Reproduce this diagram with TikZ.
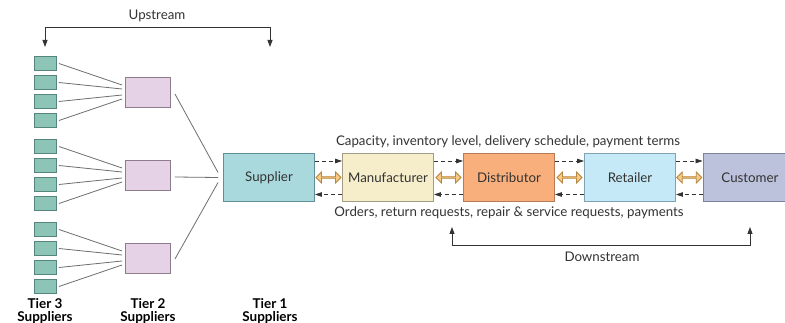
\documentclass[tikz,border=0pt]{standalone}
\usepackage{fontspec}
\setmainfont{Lato}
\usetikzlibrary{arrows.meta,shapes.arrows,calc}
\definecolor{txt}{HTML}{333333}
\definecolor{tthreef}{HTML}{8CC5B8}
\definecolor{tthreed}{HTML}{55857D}
\definecolor{ttwof}{HTML}{E6D2E6}
\definecolor{ttwod}{HTML}{8C7C8C}
\definecolor{supf}{HTML}{A9D8DD}
\definecolor{supd}{HTML}{5F8F97}
\definecolor{manf}{HTML}{F6EECB}
\definecolor{mand}{HTML}{A29C82}
\definecolor{disf}{HTML}{F9AF7C}
\definecolor{disd}{HTML}{B57C55}
\definecolor{retf}{HTML}{C5E9F6}
\definecolor{retd}{HTML}{7FA3B3}
\definecolor{cusf}{HTML}{BDC2DC}
\definecolor{cusd}{HTML}{7D819B}
\definecolor{arrf}{HTML}{F7CA85}
\definecolor{arrd}{HTML}{B8873F}
\definecolor{lnc}{HTML}{6E6E6E}
\begin{document}
\begin{tikzpicture}[x=1pt,y=-1pt,
  every node/.style={text=txt,font=\fontsize{13.3}{15}\selectfont},
  tthree/.style={draw=tthreed,fill=tthreef,line width=0.9pt,minimum width=22pt,minimum height=14pt,inner sep=0pt},
  ttwo/.style={draw=ttwod,fill=ttwof,line width=0.9pt,minimum width=45pt,minimum height=30pt,inner sep=0pt},
  chain/.style={line width=0.9pt,minimum width=91pt,minimum height=48pt,inner sep=0pt},
  link/.style={draw=lnc,line width=0.8pt},
  flow/.style={draw=txt,line width=0.8pt,dash pattern=on 4pt off 3pt,-{Triangle[length=7pt,width=4.5pt]}},
  dbl/.style={double arrow,draw=arrd,fill=arrf,line width=0.8pt,minimum width=11pt,minimum height=25pt,double arrow head extend=2.5pt,inner sep=0pt},
  guidearr/.style={draw=txt,line width=0.9pt,-{Triangle[length=7pt,width=5pt]}},
  tier/.style={font=\fontsize{13.5}{12.5}\selectfont\bfseries,text=black,align=center,inner sep=0pt}]
\useasboundingbox (0,0) rectangle (785,323);
\clip (0,0) rectangle (785,323);
\fill[white] (0,0) rectangle (785,323);

% Tier 2 and Tier 3 boxes
\foreach \g in {0,1,2}{
  \node[ttwo] (tt\g) at (148,{92.5+83*\g}) {};
  \foreach \k/\o in {0/-7.5,1/-3.5,2/2.5,3/6.5}{
    \node[tthree] (ts\g\k) at (45.5,{63.5+83*\g+19*\k}) {};
    \coordinate (te\g\k) at ($(tt\g.west)+(-3,\o)$);
    \draw[link] ([xshift=2pt]ts\g\k.east) -- (te\g\k);
  }
}

% Supply chain
\node[chain,draw=supd,fill=supf] (sup) at (269,177.5) {Supplier};
\node[chain,draw=mand,fill=manf] (man) at (388,177.5) {Manufacturer};
\node[chain,draw=disd,fill=disf] (dis) at (509,177.5) {Distributor};
\node[chain,draw=retd,fill=retf] (ret) at (630,177.5) {Retailer};
\node[chain,draw=cusd,fill=cusf,minimum width=94pt,text width=94pt,align=center] (cus) at (750,177.5) {Customer};

% Tier2 -> supplier lines
\coordinate (s0) at ($(sup.west)+(-5,-5)$);
\coordinate (s1) at ($(sup.west)+(-5,0)$);
\coordinate (s2) at ($(sup.west)+(-5,5)$);
\draw[link] ($(tt0.east)+(4,1.5)$) -- (s0);
\draw[link] ($(tt1.east)+(4,1.5)$) -- (s1);
\draw[link] ($(tt2.east)+(4,0.5)$) -- (s2);

% flows between chain members
\foreach \a/\b in {sup/man,man/dis,dis/ret,ret/cus}{
  \draw[flow] ([yshift=16.5pt]\a.east) -- ([yshift=16.5pt]\b.west);
  \draw[flow] ([yshift=-17pt]\b.west) -- ([yshift=-17pt]\a.east);
  \node[dbl] (d\a) at ($(\a.east)!0.5!(\b.west)$) {};
}

\node (info) at (508,142) {Capacity, inventory level, delivery schedule, payment terms};
\node (ord) at (509,213) {Orders, return requests, repair \& service requests, payments};

% Upstream
\coordinate (u1) at (45,27);
\coordinate (u2) at (270,27);
\coordinate (u1e) at (45,47);
\coordinate (u2e) at (270,47);
\draw[guidearr] (u2) -- (u1) -- (u1e);
\draw[guidearr] (u1) -- (u2) -- (u2e);
\node (up) at (157,16) {Upstream};

% Downstream
\coordinate (d1) at (452,245);
\coordinate (d2) at (750,245);
\coordinate (d1e) at (452,227);
\coordinate (d2e) at (750,227);
\draw[guidearr] (d2) -- (d1) -- (d1e);
\draw[guidearr] (d1) -- (d2) -- (d2e);
\node (down) at (602,257) {Downstream};

% Tier labels
\node[tier] (l3) at (45,311) {Tier 3\\Suppliers};
\node[tier] (l2) at (148,311) {Tier 2\\Suppliers};
\node[tier] (l1) at (270,311) {Tier 1\\Suppliers};
\end{tikzpicture}
\end{document}
